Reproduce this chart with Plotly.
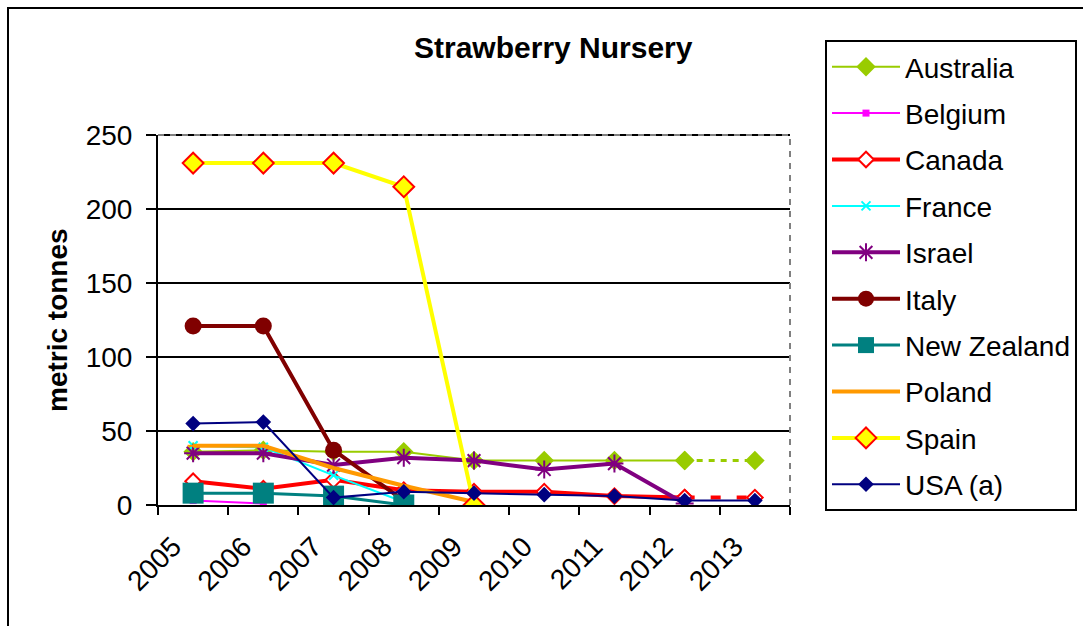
import plotly.graph_objects as go

years = ["2005", "2006", "2007", "2008", "2009", "2010", "2011", "2012", "2013"]

australia = [36, 37, 36, 36, 30, 30, 30, 30, 30]
belgium = [3, 1, None, None, None, None, None, None, None]
canada = [16, 11, 17, 10, 9, 9, 6, 5, 5]
france = [40, 39, 20, 2, None, None, None, None, None]
israel = [35, 35, 27, 32, 30, 24, 28, 1, None]
italy = [121, 121, 37, 3, None, None, None, None, None]
new_zealand = [8, 8, 6, 0, None, None, None, None, None]
poland = [40, 40, 25, 13, 2, None, None, None, None]
spain = [231, 231, 231, 215, 0, None, None, None, None]
usa = [55, 56, 5, 9, 8, 7, 6, 3, 3]

y_ticks = [0, 50, 100, 150, 200, 250]

FONT = "Liberation Sans, Arial, sans-serif"

fig = go.Figure()


def add(name, vals, color, width, marker, dash_last=None):
    solid = list(vals)
    if dash_last:
        solid = list(vals[:-1]) + [None]
    fig.add_trace(go.Scatter(
        x=years, y=solid, name=name, mode="lines+markers",
        line=dict(color=color, width=width),
        marker=marker, legendgroup=name, connectgaps=False,
    ))
    if dash_last:
        seg = [None] * (len(vals) - 2) + list(vals[-2:])
        fig.add_trace(go.Scatter(
            x=years, y=seg, name=name, mode="lines+markers",
            line=dict(color=color, width=dash_last[1], dash=dash_last[0]),
            marker=dict(marker), legendgroup=name, showlegend=False,
        ))


add("Australia", australia, "#99CC00", 2,
    dict(symbol="diamond", size=15, color="#99CC00"),
    dash_last=("6px,6px", 3))
add("Belgium", belgium, "#FF00FF", 2,
    dict(symbol="square", size=7, color="#FF00FF"))
add("Canada", canada, "#FF0000", 4,
    dict(symbol="diamond", size=12, color="#FFFFFF",
         line=dict(color="#FF0000", width=2)),
    dash_last=("10px,16px", 4))
add("France", france, "#00FFFF", 2,
    dict(symbol="x-thin-open", size=9, color="#00FFFF",
         line=dict(color="#00FFFF", width=2)))
add("Israel", israel, "#800080", 4,
    dict(symbol="asterisk-open", size=15, color="#800080",
         line=dict(color="#800080", width=2)))
add("Italy", italy, "#800000", 4,
    dict(symbol="circle", size=17, color="#800000"))
add("New Zealand", new_zealand, "#008080", 3,
    dict(symbol="square", size=21, color="#008080"))
add("Poland", poland, "#FF9900", 4,
    dict(symbol="line-ew-open", size=8, color="#FF9900",
         line=dict(color="#FF9900", width=2)))
add("Spain", spain, "#FFFF00", 4,
    dict(symbol="diamond", size=16, color="#FFFF00",
         line=dict(color="#FF0000", width=2)))
add("USA (a)", usa, "#000080", 2,
    dict(symbol="diamond", size=12, color="#000080"))

L, R, T, B = 158, 790, 135, 505
W, H = 1083, 626


def px(xp):
    return (xp - L) / (R - L)


def py(yp):
    return (B - yp) / (B - T)


fig.update_layout(
    width=W, height=H,
    margin=dict(l=L, r=W - R, t=T, b=H - B, pad=0, autoexpand=False),
    paper_bgcolor="white", plot_bgcolor="white",
    font=dict(family=FONT, color="black", size=28),
    showlegend=True,
    legend=dict(
        x=px(825), y=py(40), xanchor="left", yanchor="top",
        bordercolor="black", borderwidth=2, bgcolor="white",
        font=dict(size=28, family=FONT),
        traceorder="grouped", tracegroupgap=7,
        itemwidth=68, itemsizing="trace", maxheight=600,
    ),
    xaxis=dict(
        type="category", categoryorder="array", categoryarray=years,
        range=[-0.5, len(years) - 0.5],
        tickson="boundaries", ticks="outside", ticklen=8, tickwidth=2,
        tickcolor="black", tickangle=-45, showgrid=False,
        showline=True, linecolor="black", linewidth=2,
        tickfont=dict(size=28, family=FONT), zeroline=False,
        ticklabelshift=-20, ticklabelstandoff=12,
    ),
    yaxis=dict(
        range=[0, 250], tickvals=y_ticks, ticks="outside", ticklen=10,
        tickwidth=2, tickcolor="black", showgrid=True, gridcolor="black",
        gridwidth=2, showline=True, linecolor="black", linewidth=2,
        zeroline=False, tickfont=dict(size=28, family=FONT),
        ticklabelstandoff=8,
    ),
    annotations=[
        dict(text="<b>Strawberry Nursery</b>", xref="paper", yref="paper",
             x=px(553), y=py(48), xanchor="center", yanchor="middle",
             showarrow=False, font=dict(size=30, family=FONT)),
        dict(text="<b>metric tonnes</b>", xref="paper", yref="paper",
             x=px(57), y=py(320), xanchor="center", yanchor="middle",
             textangle=-90, showarrow=False, font=dict(size=28, family=FONT)),
    ],
    shapes=[
        dict(type="line", xref="paper", yref="paper", x0=0, x1=1, y0=1, y1=1,
             line=dict(color="black", width=2), layer="below"),
        dict(type="line", xref="paper", yref="paper", x0=0, x1=1, y0=1, y1=1,
             line=dict(color="#808080", width=2, dash="6px,6px"), layer="above"),
        dict(type="line", xref="paper", yref="paper", x0=1, x1=1, y0=0, y1=1,
             line=dict(color="#808080", width=2, dash="6px,6px"), layer="above"),
        dict(type="rect", xref="paper", yref="paper",
             x0=px(8), x1=px(1095), y0=py(640), y1=py(8),
             line=dict(color="black", width=2), fillcolor="rgba(0,0,0,0)",
             layer="below"),
    ],
)

fig.write_html("out.html")
